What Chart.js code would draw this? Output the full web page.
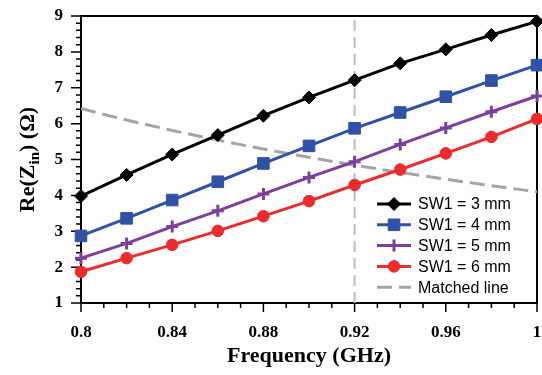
<!DOCTYPE html>
<html>
<head>
<meta charset="utf-8">
<script src="https://cdn.jsdelivr.net/npm/chart.js@4/dist/chart.umd.min.js"></script>
<style>
  html, body { margin: 0; padding: 0; background: #fff; }
  #wrap { width: 542px; height: 375px; }
</style>
</head>
<body>
<div id="wrap"><canvas id="c" width="542" height="375"></canvas></div>
<script>
// Input resistance versus frequency for four SW1 widths
const frequencies = [0.80, 0.82, 0.84, 0.86, 0.88, 0.90, 0.92, 0.94, 0.96, 0.98, 1.00];
const sw1_3mm = [3.98, 4.57, 5.14, 5.68, 6.22, 6.73, 7.21, 7.68, 8.07, 8.47, 8.85];
const sw1_4mm = [2.87, 3.36, 3.87, 4.38, 4.89, 5.38, 5.87, 6.31, 6.75, 7.20, 7.63];
const sw1_5mm = [2.25, 2.66, 3.13, 3.57, 4.04, 4.50, 4.94, 5.42, 5.88, 6.33, 6.77];
const sw1_6mm = [1.87, 2.25, 2.62, 3.01, 3.42, 3.84, 4.29, 4.72, 5.17, 5.63, 6.13];
const matchedLine = [6.42, 6.10, 5.81, 5.54, 5.29, 5.06, 4.84, 4.64, 4.45, 4.27, 4.10];
const designFrequency = 0.92;
const xTickValues = [0.8, 0.84, 0.88, 0.92, 0.96, 1];
const yTickValues = [1, 2, 3, 4, 5, 6, 7, 8, 9];
const xMinorStep = 0.01;
const yMinorStep = 0.2;

const pts = (ys) => frequencies.map((f, i) => ({ x: f, y: ys[i] }));

const serif = '"Liberation Serif", "Times New Roman", serif';
const sans = '"Liberation Sans", Arial, sans-serif';

function seriesStyle(color, style, radius, pbw) {
  return {
    borderColor: color, backgroundColor: color,
    pointBackgroundColor: color, pointBorderColor: color,
    pointStyle: style, pointRadius: radius, pointBorderWidth: pbw,
    borderWidth: 3, tension: 0, clip: false, order: 0
  };
}

const datasets = [
  Object.assign({ label: 'SW1 = 3 mm', data: pts(sw1_3mm) }, seriesStyle('#000000', 'rectRot', 6.5, 1)),
  Object.assign({ label: 'SW1 = 4 mm', data: pts(sw1_4mm) }, seriesStyle('#2f52a6', 'rect', 8.2, 1)),
  Object.assign({ label: 'SW1 = 5 mm', data: pts(sw1_5mm) }, seriesStyle('#7d3f9f', 'cross', 6, 3)),
  Object.assign({ label: 'SW1 = 6 mm', data: pts(sw1_6mm) }, seriesStyle('#ee2a2a', 'circle', 5.8, 1)),
  {
    label: 'Matched line', data: pts(matchedLine),
    borderColor: '#a4a4a4', borderWidth: 3, borderDash: [15, 7],
    pointRadius: 0, tension: 0, order: 5
  },
  {
    label: '', data: [{ x: designFrequency, y: yTickValues[0] }, { x: designFrequency, y: yTickValues[yTickValues.length - 1] }],
    borderColor: '#bdbdbd', borderWidth: 2, borderDash: [11, 6],
    pointRadius: 0, tension: 0, order: 6, hideInLegend: true
  }
];

// Fallback marker drawing when helpers are not exposed
function drawMarker(ctx, style, r, x, y) {
  if (Chart.helpers && Chart.helpers.drawPoint) {
    Chart.helpers.drawPoint(ctx, { pointStyle: style, radius: r, borderWidth: ctx.lineWidth, rotation: 0 }, x, y);
    return;
  }
  ctx.beginPath();
  if (style === 'circle') ctx.arc(x, y, r, 0, Math.PI * 2);
  else if (style === 'rect') { const s = r * Math.SQRT1_2; ctx.rect(x - s, y - s, 2 * s, 2 * s); }
  else if (style === 'rectRot') { ctx.moveTo(x, y - r); ctx.lineTo(x + r, y); ctx.lineTo(x, y + r); ctx.lineTo(x - r, y); ctx.closePath(); }
  else if (style === 'cross') { ctx.moveTo(x - r, y); ctx.lineTo(x + r, y); ctx.moveTo(x, y - r); ctx.lineTo(x, y + r); }
  ctx.fill(); ctx.stroke();
}

const decor = {
  id: 'decor',
  beforeDatasetsDraw(chart) {
    const { ctx, chartArea: a, scales: { x, y } } = chart;
    ctx.save();
    ctx.strokeStyle = '#000';
    ctx.lineWidth = 1.5;
    ctx.beginPath();
    const xMin = x.min, xMax = x.max;
    const nx = Math.round((xMax - xMin) / xMinorStep);
    for (let k = 0; k <= nx; k++) {
      const px = x.getPixelForValue(xMin + k * xMinorStep);
      const len = k % 4 === 0 ? 9 : 5;
      ctx.moveTo(px, a.bottom); ctx.lineTo(px, a.bottom + len);
    }
    const ny = Math.round((y.max - y.min) / yMinorStep);
    for (let k = 0; k <= ny; k++) {
      const py = y.getPixelForValue(y.min + k * yMinorStep);
      const len = k % 5 === 0 ? 10 : 5;
      ctx.moveTo(a.left - len, py); ctx.lineTo(a.left, py);
    }
    ctx.stroke();
    ctx.lineWidth = 2;
    ctx.strokeRect(a.left, a.top, a.right - a.left, a.bottom - a.top);
    ctx.restore();
  },
  afterDraw(chart) {
    const { ctx, chartArea: a } = chart;
    // legend
    ctx.save();
    const items = chart.data.datasets.filter(d => !d.hideInLegend);
    const rowH = 20.8;
    const x0 = a.right - 160, x1 = a.right - 126, tx = a.right - 119;
    let cy = a.bottom - 99;
    ctx.font = '16px ' + sans;
    ctx.textBaseline = 'middle';
    ctx.textAlign = 'left';
    items.forEach(d => {
      ctx.setLineDash(d.borderDash || []);
      ctx.strokeStyle = d.borderColor;
      ctx.lineWidth = d.borderWidth;
      ctx.beginPath(); ctx.moveTo(x0, cy); ctx.lineTo(x1, cy); ctx.stroke();
      ctx.setLineDash([]);
      if (d.pointRadius > 0) {
        ctx.fillStyle = d.pointBackgroundColor;
        ctx.strokeStyle = d.pointBorderColor;
        ctx.lineWidth = d.pointBorderWidth;
        drawMarker(ctx, d.pointStyle, d.pointRadius, (x0 + x1) / 2, cy);
      }
      ctx.fillStyle = '#000';
      ctx.fillText(d.label, tx, cy + 1);
      cy += rowH;
    });
    ctx.restore();

    // y-axis title with subscript
    ctx.save();
    const big = 'bold 22px ' + serif, small = 'bold 15px ' + serif;
    const p1 = 'Re(Z', p2 = 'in', p3 = ') (\u03A9)';
    ctx.font = big; const w1 = ctx.measureText(p1).width, w3 = ctx.measureText(p3).width;
    ctx.font = small; const w2 = ctx.measureText(p2).width;
    const total = w1 + w2 + w3;
    ctx.translate(26, (a.top + a.bottom) / 2);
    ctx.rotate(-Math.PI / 2);
    ctx.fillStyle = '#000';
    ctx.textBaseline = 'alphabetic';
    ctx.textAlign = 'left';
    let sx = -total / 2;
    ctx.font = big; ctx.fillText(p1, sx, 8); sx += w1;
    ctx.font = small; ctx.fillText(p2, sx, 13); sx += w2;
    ctx.font = big; ctx.fillText(p3, sx, 8);
    ctx.restore();
  }
};

new Chart(document.getElementById('c'), {
  type: 'line',
  data: { datasets },
  options: {
    responsive: false,
    animation: false,
    devicePixelRatio: 1,
    layout: { autoPadding: false, padding: { top: 16, right: 5, left: 0, bottom: 0 } },
    plugins: { legend: { display: false }, tooltip: { enabled: false } },
    scales: {
      x: {
        type: 'linear',
        min: xTickValues[0], max: xTickValues[xTickValues.length - 1],
        afterBuildTicks: s => { s.ticks = xTickValues.map(v => ({ value: v })); },
        afterFit: s => { s.height = 72; s.paddingLeft = 0; s.paddingRight = 0; },
        grid: { display: false, drawTicks: false },
        border: { display: false },
        ticks: {
          padding: 19, color: '#000', maxRotation: 0, autoSkip: false,
          font: { family: serif, size: 17, weight: 'bold' },
          callback: v => String(v)
        },
        title: {
          display: true, text: 'Frequency (GHz)', color: '#000',
          font: { family: serif, size: 22, weight: 'bold' },
          padding: { top: 0, bottom: 5 }
        }
      },
      y: {
        type: 'linear',
        min: yTickValues[0], max: yTickValues[yTickValues.length - 1],
        afterBuildTicks: s => { s.ticks = yTickValues.map(v => ({ value: v })); },
        afterFit: s => { s.width = 81; s.paddingTop = 0; s.paddingBottom = 0; },
        grid: { display: false, drawTicks: false },
        border: { display: false },
        ticks: {
          padding: 18, color: '#000',
          font: { family: serif, size: 17, weight: 'bold' },
          callback: v => String(v)
        }
      }
    }
  },
  plugins: [decor]
});
</script>
</body>
</html>
